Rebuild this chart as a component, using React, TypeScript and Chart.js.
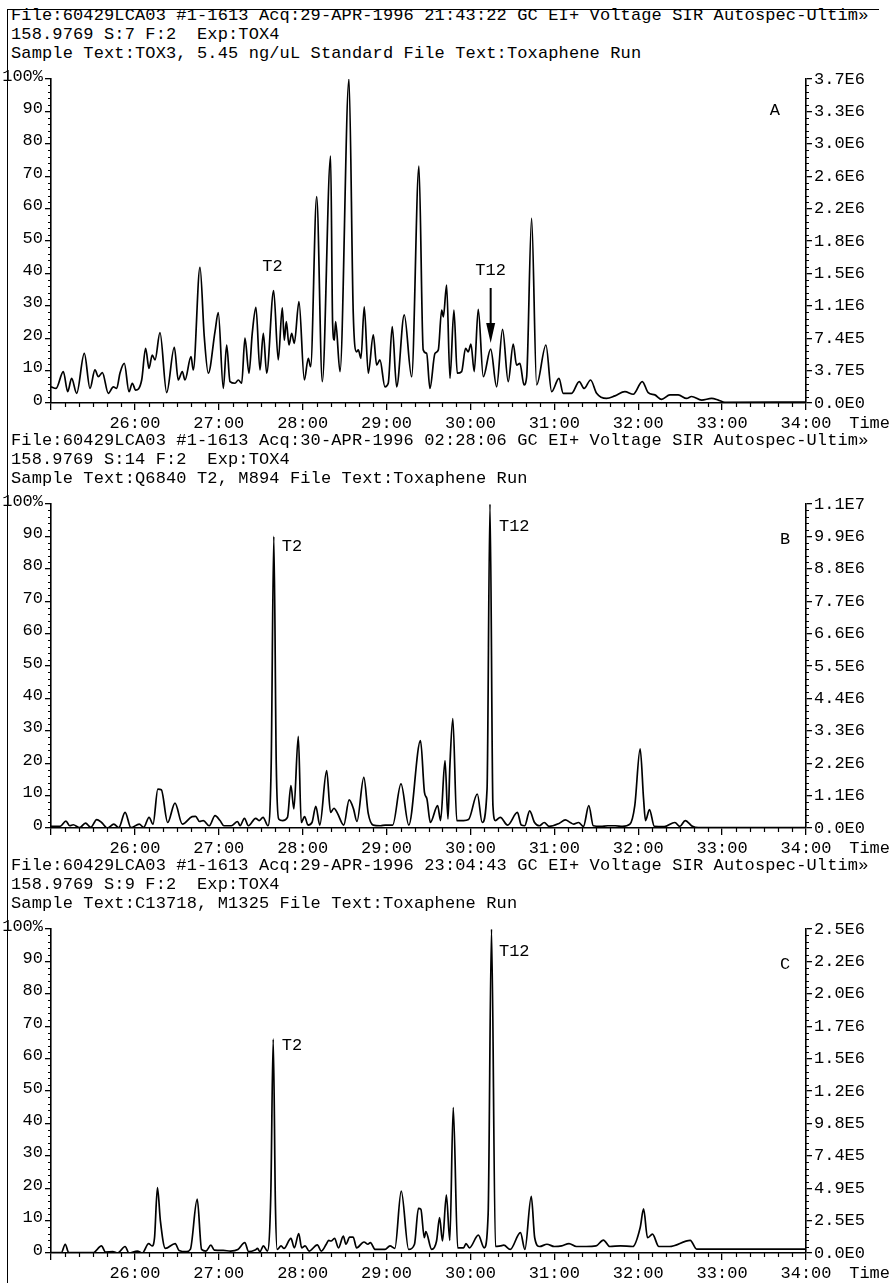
import React, { useEffect, useRef } from "react";
import { Chart, registerables } from "chart.js";

Chart.register(...registerables);

const FONT_FAMILY = '"Liberation Mono", "DejaVu Sans Mono", monospace';

// ---------------- data ----------------
const headerA = [
  "File:60429LCA03 #1-1613 Acq:29-APR-1996 21:43:22 GC EI+ Voltage SIR Autospec-Ultim\u00bb",
  "158.9769 S:7 F:2  Exp:TOX4",
  "Sample Text:TOX3, 5.45 ng/uL Standard File Text:Toxaphene Run",
];
const headerB = [
  "File:60429LCA03 #1-1613 Acq:30-APR-1996 02:28:06 GC EI+ Voltage SIR Autospec-Ultim\u00bb",
  "158.9769 S:14 F:2  Exp:TOX4",
  "Sample Text:Q6840 T2, M894 File Text:Toxaphene Run",
];
const headerC = [
  "File:60429LCA03 #1-1613 Acq:29-APR-1996 23:04:43 GC EI+ Voltage SIR Autospec-Ultim\u00bb",
  "158.9769 S:9 F:2  Exp:TOX4",
  "Sample Text:C13718, M1325 File Text:Toxaphene Run",
];

const xTickLabels = ["", "26:00", "27:00", "28:00", "29:00", "30:00", "31:00", "32:00", "33:00", "34:00"];
const leftTickLabels = ["0", "10", "20", "30", "40", "50", "60", "70", "80", "90", "100%"];
const rightTickLabelsA = ["0.0E0", "3.7E5", "7.4E5", "1.1E6", "1.5E6", "1.8E6", "2.2E6", "2.6E6", "3.0E6", "3.3E6", "3.7E6"];
const rightTickLabelsB = ["0.0E0", "1.1E6", "2.2E6", "3.3E6", "4.4E6", "5.5E6", "6.6E6", "7.7E6", "8.8E6", "9.9E6", "1.1E7"];
const rightTickLabelsC = ["0.0E0", "2.5E5", "4.9E5", "7.4E5", "9.8E5", "1.2E6", "1.5E6", "1.7E6", "2.0E6", "2.2E6", "2.5E6"];

// retention time (min) and relative intensity (%)
const timesA = [
  25.0, 25.06, 25.147, 25.199, 25.246, 25.306, 25.397, 25.465, 25.524, 25.564, 25.612, 25.683, 25.743, 25.783,
  25.822, 25.874, 25.93, 25.969, 26.009, 26.081, 26.128, 26.168, 26.207, 26.24, 26.299, 26.379, 26.47, 26.517,
  26.565, 26.597, 26.669, 26.696, 26.776, 26.827, 26.875, 26.955, 26.994, 27.054, 27.094, 27.134, 27.193, 27.233,
  27.273, 27.312, 27.36, 27.399, 27.443, 27.491, 27.531, 27.571, 27.654, 27.709, 27.757, 27.781, 27.805, 27.837,
  27.869, 27.9, 27.956, 28.02, 28.067, 28.095, 28.167, 28.234, 28.333, 28.357, 28.377, 28.393, 28.445, 28.552,
  28.603, 28.643, 28.663, 28.695, 28.734, 28.782, 28.842, 28.882, 28.921, 28.981, 29.02, 29.068, 29.12, 29.211,
  29.299, 29.386, 29.437, 29.478, 29.517, 29.577, 29.617, 29.657, 29.677, 29.716, 29.756, 29.803, 29.843, 29.895,
  29.942, 29.974, 30.006, 30.045, 30.093, 30.153, 30.241, 30.312, 30.383, 30.45, 30.51, 30.55, 30.59, 30.638,
  30.67, 30.729, 30.789, 30.9, 30.968, 31.055, 31.106, 31.206, 31.297, 31.356, 31.432, 31.504, 31.623, 31.722,
  31.841, 31.941, 32.048, 32.119, 32.199, 32.278, 32.378, 32.477, 32.577, 32.636, 32.756, 32.875, 32.954, 33.033,
  34.0,
];
const valuesA = [
  5.0, 4.5, 9.7, 3.5, 7.6, 3.0, 15.3, 4.5, 10.2, 8.1, 9.4, 3.0, 5.0, 4.5,
  9.2, 12.2, 3.5, 6.1, 4.0, 7.1, 16.9, 10.7, 14.8, 13.3, 21.7, 3.2, 17.2, 7.1,
  9.7, 7.1, 14.3, 10.2, 41.9, 20.5, 9.2, 22.0, 27.9, 4.5, 17.9, 6.6, 6.1, 7.1,
  6.1, 20.0, 9.2, 21.5, 29.5, 10.2, 21.5, 9.2, 34.7, 13.3, 29.4, 19.4, 25.1, 17.9,
  21.5, 18.4, 31.3, 7.1, 13.8, 11.2, 63.7, 6.6, 76.2, 24.6, 19.4, 25.1, 9.7, 100,
  27.7, 15.8, 16.4, 13.8, 29.7, 9.2, 21.0, 11.7, 13.3, 5.0, 6.1, 23.6, 5.0, 27.2,
  8.1, 73.1, 16.4, 15.3, 4.5, 15.3, 16.4, 28.7, 26.6, 36.4, 7.6, 28.7, 9.2, 9.7,
  16.9, 15.8, 18.2, 9.7, 28.9, 8.1, 16.6, 5.0, 22.7, 6.6, 18.2, 11.7, 12.2, 5.6,
  8.1, 57.0, 5.6, 17.9, 3.5, 7.6, 3.0, 3.0, 6.6, 4.5, 7.1, 3.0, 1.4, 2.2,
  3.5, 2.7, 6.6, 3.2, 2.5, 1.1, 2.5, 2.5, 1.4, 2.0, 0.9, 1.4, 0.9, 0.2,
  0.3,
];

const timesB = [
  25.0, 25.108, 25.178, 25.224, 25.265, 25.341, 25.411, 25.475, 25.545, 25.603, 25.673, 25.749, 25.808, 25.883,
  25.953, 26.052, 26.105, 26.169, 26.216, 26.274, 26.315, 26.391, 26.478, 26.566, 26.682, 26.723, 26.77, 26.816,
  26.886, 26.956, 27.015, 27.061, 27.149, 27.224, 27.254, 27.306, 27.353, 27.44, 27.481, 27.528, 27.586, 27.625,
  27.656, 27.685, 27.714, 27.761, 27.819, 27.86, 27.895, 27.948, 27.983, 28.023, 28.064, 28.111, 28.157, 28.204,
  28.286, 28.332, 28.373, 28.414, 28.49, 28.554, 28.606, 28.647, 28.729, 28.781, 28.84, 28.927, 28.985, 29.073,
  29.172, 29.265, 29.405, 29.452, 29.481, 29.522, 29.609, 29.644, 29.697, 29.732, 29.755, 29.79, 29.837, 29.918,
  29.977, 30.082, 30.14, 30.198, 30.233, 30.268, 30.297, 30.356, 30.443, 30.56, 30.606, 30.647, 30.706, 30.764,
  30.822, 30.88, 30.939, 31.055, 31.131, 31.19, 31.23, 31.289, 31.347, 31.411, 31.464, 31.551, 31.638, 31.726,
  31.813, 31.901, 31.959, 32.023, 32.064, 32.087, 32.134, 32.192, 32.309, 32.437, 32.496, 32.56, 32.647, 32.717,
  34.0,
];
const valuesB = [
  0.5, 0.5, 2.1, 0.7, 1.0, 0.1, 1.5, 0.2, 2.6, 1.7, 0.0, 1.2, 0.1, 4.8,
  0.1, 1.2, 0.2, 3.3, 1.2, 12.0, 11.8, 1.7, 7.7, 1.2, 3.5, 3.6, 2.0, 2.3,
  0.7, 3.8, 2.3, 0.7, 0.7, 2.0, 0.7, 3.0, 0.7, 3.0, 2.3, 3.3, 0.7, 20.0,
  90.0, 20.0, 2.8, 2.3, 3.3, 13.1, 5.9, 28.3, 1.7, 3.5, 0.9, 1.7, 6.7, 0.9,
  17.7, 4.8, 6.1, 4.6, 0.9, 8.7, 5.9, 2.0, 15.6, 4.6, 0.9, 0.7, 0.9, 0.9,
  13.6, 0.9, 27.0, 11.0, 9.0, 1.7, 6.9, 2.3, 20.8, 2.8, 19.2, 33.8, 2.3, 2.3,
  2.6, 10.5, 1.7, 12.0, 100, 6.9, 2.3, 3.3, 0.9, 4.8, 0.9, 0.7, 5.3, 1.7,
  0.7, 1.7, 0.5, 1.4, 2.5, 1.7, 1.2, 1.7, 0.5, 6.9, 0.7, 0.5, 0.7, 0.7,
  0.5, 1.2, 6.9, 24.4, 8.9, 2.3, 5.7, 0.5, 0.4, 1.7, 0.5, 2.3, 0.5, 0.1,
  0.1,
];

const timesC = [
  25.0, 25.123, 25.17, 25.211, 25.298, 25.503, 25.602, 25.649, 25.737, 25.795, 25.883, 25.93, 26.029, 26.088,
  26.164, 26.205, 26.234, 26.269, 26.304, 26.363, 26.48, 26.526, 26.614, 26.661, 26.743, 26.795, 26.848, 26.906,
  26.947, 27.053, 27.14, 27.228, 27.31, 27.357, 27.433, 27.462, 27.491, 27.532, 27.579, 27.62, 27.649, 27.675,
  27.696, 27.743, 27.778, 27.86, 27.901, 27.953, 27.988, 28.029, 28.076, 28.175, 28.222, 28.281, 28.31, 28.339,
  28.38, 28.427, 28.485, 28.515, 28.561, 28.602, 28.643, 28.731, 28.778, 28.807, 28.865, 28.982, 29.041, 29.099,
  29.175, 29.263, 29.333, 29.38, 29.409, 29.45, 29.468, 29.538, 29.596, 29.632, 29.667, 29.713, 29.754, 29.795,
  29.848, 29.918, 29.947, 29.988, 30.094, 30.164, 30.211, 30.251, 30.298, 30.357, 30.398, 30.474, 30.596, 30.649,
  30.725, 30.766, 30.825, 30.912, 31.0, 31.088, 31.175, 31.263, 31.38, 31.497, 31.585, 31.661, 31.789, 31.936,
  32.023, 32.064, 32.111, 32.17, 32.246, 32.374, 32.62, 32.696, 34.0,
];
const valuesC = [
  0.1, 0.1, 2.7, 0.1, 0.1, 0.1, 2.2, 0.3, 0.4, 0.0, 2.0, 0.0, 0.6, 0.0,
  2.9, 2.2, 4.7, 20.2, 9.9, 1.4, 2.9, 0.8, 0.4, 1.1, 16.6, 1.1, 0.6, 2.4,
  0.9, 0.8, 0.6, 1.1, 3.2, 0.4, 0.9, 1.4, 0.4, 2.2, 0.6, 18.0, 66.0, 15.0,
  1.1, 2.2, 1.4, 4.5, 1.6, 6.0, 1.6, 2.2, 0.6, 2.5, 0.6, 2.7, 3.9, 3.7,
  4.5, 1.6, 5.2, 2.7, 4.9, 4.9, 1.6, 3.4, 2.7, 3.2, 1.1, 1.1, 2.2, 1.4,
  19.1, 1.1, 2.7, 13.8, 13.5, 4.7, 6.6, 1.1, 3.7, 10.9, 3.7, 17.9, 3.9, 44.9,
  1.6, 1.6, 2.9, 1.6, 5.5, 1.6, 12.0, 100, 2.0, 2.2, 2.4, 1.1, 6.3, 1.1,
  17.5, 4.7, 2.0, 2.7, 2.0, 2.2, 2.9, 2.0, 2.0, 2.2, 4.0, 2.0, 2.2, 2.0,
  7.8, 13.6, 4.7, 5.8, 2.0, 2.0, 3.9, 1.2, 1.2,
];

// annotation texts placed in data coordinates (minutes, %)
const notesA = [
  { text: "T2", t: 27.64, v: 42, align: "center" },
  { text: "T12", t: 30.24, v: 41, align: "center" },
  { text: "A", t: 33.63, v: 90.4, align: "center" },
];
const notesB = [
  { text: "T2", t: 27.75, v: 87, align: "left" },
  { text: "T12", t: 30.34, v: 93, align: "left" },
  { text: "B", t: 33.75, v: 89, align: "center" },
];
const notesC = [
  { text: "T2", t: 27.75, v: 64, align: "left" },
  { text: "T12", t: 30.34, v: 93, align: "left" },
  { text: "C", t: 33.75, v: 89, align: "center" },
];
const arrowA = { t: 30.241, from: 35.5, to: 18.5 };

// ---------------- component ----------------
type Note = { text: string; t: number; v: number; align: string };
type Arrow = { t: number; from: number; to: number };
type PanelProps = {
  top: number;
  header: string[];
  times: number[];
  values: number[];
  rightLabels: string[];
  notes: Note[];
  arrow?: Arrow;
};

function Panel(p: PanelProps) {
  const ref = useRef<HTMLCanvasElement | null>(null);

  useEffect(() => {
    const canvas = ref.current;
    if (!canvas) return;
    const tickFont = { family: FONT_FAMILY, size: 17 };

    const decor = {
      id: "decor",
      afterDraw(chart: any) {
        const ctx = chart.ctx as CanvasRenderingContext2D;
        const a = chart.chartArea;
        const xs = chart.scales.x;
        const ys = chart.scales.y;
        ctx.save();
        ctx.strokeStyle = "#000";
        ctx.lineWidth = 1.2;
        ctx.beginPath();
        for (let i = 0; i <= 54; i++) {
          if (i % 6 === 0) continue;
          const px = Math.round(xs.getPixelForValue(25 + i / 6)) + 0.5;
          ctx.moveTo(px, a.bottom);
          ctx.lineTo(px, a.bottom + 4);
        }
        for (let i = 0; i <= 50; i++) {
          if (i % 5 === 0) continue;
          const py = Math.round(ys.getPixelForValue(i * 2)) + 0.5;
          ctx.moveTo(a.left, py);
          ctx.lineTo(a.left - 3, py);
          ctx.moveTo(a.right, py);
          ctx.lineTo(a.right + 3, py);
        }
        ctx.stroke();

        ctx.fillStyle = "#000";
        ctx.font = `17px ${FONT_FAMILY}`;
        ctx.textBaseline = "middle";
        for (const n of p.notes) {
          ctx.textAlign = n.align as CanvasTextAlign;
          ctx.fillText(n.text, xs.getPixelForValue(n.t), ys.getPixelForValue(n.v));
        }
        ctx.textAlign = "right";
        ctx.fillText("Time", chart.width - 1, a.bottom + 20);

        if (p.arrow) {
          const ax = xs.getPixelForValue(p.arrow.t);
          const y0 = ys.getPixelForValue(p.arrow.from);
          const y1 = ys.getPixelForValue(p.arrow.to);
          const headLen = 20;
          ctx.lineWidth = 2;
          ctx.beginPath();
          ctx.moveTo(ax, y0);
          ctx.lineTo(ax, y1 - headLen);
          ctx.stroke();
          ctx.beginPath();
          ctx.moveTo(ax - 4.5, y1 - headLen);
          ctx.lineTo(ax + 4.5, y1 - headLen);
          ctx.lineTo(ax, y1);
          ctx.closePath();
          ctx.fill();
        }
        ctx.restore();
      },
    };

    const gridOpts = (len: number) => ({
      display: true,
      drawOnChartArea: false,
      drawTicks: true,
      tickLength: len,
      color: "#000",
      tickColor: "#000",
      lineWidth: 1.3,
    });
    const borderOpts = { display: true, color: "#000", width: 1.6 };

    const chart = new Chart(canvas, {
      type: "line",
      data: {
        datasets: [
          {
            data: p.times.map((t, i) => ({ x: t, y: p.values[i] })),
            borderColor: "#000",
            borderWidth: 1.7,
            pointRadius: 0,
            cubicInterpolationMode: "monotone",
            fill: false,
          },
        ],
      },
      options: {
        animation: false,
        responsive: false,
        devicePixelRatio: 1,
        layout: { padding: { top: 17, left: 0, right: 0, bottom: 0 } },
        plugins: {
          legend: { display: false },
          tooltip: { enabled: false },
          title: { display: false },
        },
        scales: {
          x: {
            type: "linear",
            position: "bottom",
            min: 25,
            max: 34,
            ticks: {
              stepSize: 1,
              autoSkip: false,
              maxRotation: 0,
              color: "#000",
              font: tickFont,
              padding: 3,
              callback: (_v: any, i: number) => xTickLabels[i] ?? "",
            },
            grid: gridOpts(7),
            border: borderOpts,
            afterFit: (s: any) => {
              s.height = 31;
            },
          },
          y: {
            position: "left",
            min: 0,
            max: 100,
            ticks: {
              stepSize: 10,
              autoSkip: false,
              color: "#000",
              font: tickFont,
              padding: 2,
              labelOffset: -3,
              callback: (_v: any, i: number) => leftTickLabels[i] ?? "",
            },
            grid: gridOpts(6),
            border: borderOpts,
            afterFit: (s: any) => {
              s.width = 51;
            },
          },
          y2: {
            position: "right",
            min: 0,
            max: 100,
            ticks: {
              stepSize: 10,
              autoSkip: false,
              color: "#000",
              font: tickFont,
              padding: 2,
              callback: (_v: any, i: number) => p.rightLabels[i] ?? "",
            },
            grid: gridOpts(6),
            border: borderOpts,
            afterFit: (s: any) => {
              s.width = 85;
            },
          },
        },
      } as any,
      plugins: [decor],
    });
    return () => chart.destroy();
  }, []);

  return (
    <div style={{ position: "absolute", left: 0, top: p.top, width: 891, height: 434 }}>
      <div
        style={{
          position: "absolute",
          left: 11,
          top: 6,
          fontFamily: FONT_FAMILY,
          fontSize: 17,
          lineHeight: "19px",
          letterSpacing: "0.13px",
          whiteSpace: "pre",
          color: "#000",
        }}
      >
        {p.header.map((l, i) => (
          <div key={i}>{l}</div>
        ))}
      </div>
      <canvas
        ref={ref}
        width={891}
        height={372}
        style={{ position: "absolute", left: 0, top: 62, display: "block" }}
      />
    </div>
  );
}

export default function App() {
  return (
    <div
      style={{
        position: "absolute",
        left: 0,
        top: 0,
        width: 891,
        height: 1283,
        background: "#fff",
        overflow: "hidden",
      }}
    >
      <div
        style={{
          position: "absolute",
          left: 7,
          top: 9,
          width: 871,
          height: 1280,
          borderLeft: "1.5px solid #000",
          borderTop: "1.5px solid #000",
        }}
      />
      <Panel top={0} header={headerA} times={timesA} values={valuesA} rightLabels={rightTickLabelsA} notes={notesA} arrow={arrowA} />
      <Panel top={425} header={headerB} times={timesB} values={valuesB} rightLabels={rightTickLabelsB} notes={notesB} />
      <Panel top={850} header={headerC} times={timesC} values={valuesC} rightLabels={rightTickLabelsC} notes={notesC} />
    </div>
  );
}
